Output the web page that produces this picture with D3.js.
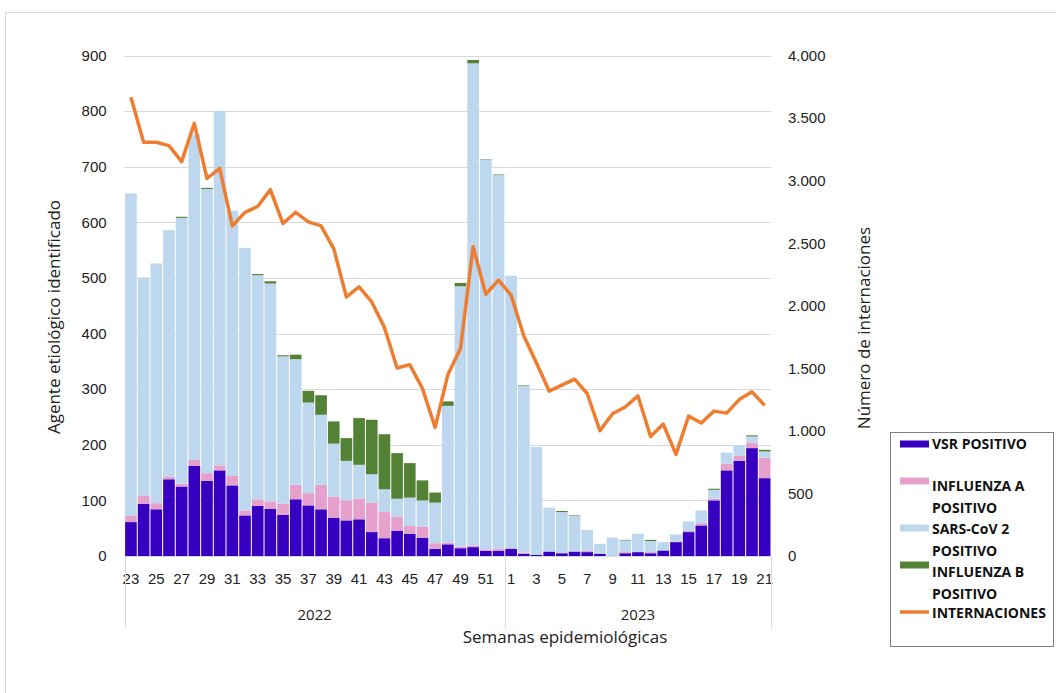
<!DOCTYPE html>
<html>
<head>
<meta charset="utf-8">
<script src="https://cdn.jsdelivr.net/npm/d3@7"></script>
<style>
  body { margin: 0; background: #fff; }
  svg { font-family: "Open Sans", "Noto Sans", sans-serif; }
</style>
</head>
<body>
<div id="chart"></div>
<script>
// semanas epidemiologicas 23/2022 .. 21/2023
const weeks = [23,24,25,26,27,28,29,30,31,32,33,34,35,36,37,38,39,40,41,42,43,44,45,46,47,48,49,50,51,52,
               1,2,3,4,5,6,7,8,9,10,11,12,13,14,15,16,17,18,19,20,21];
const years = ['2022', '2023'];
const weeksPerYear = [30, 21];

const vsr = [61,94,84,138,125,162,135,154,127,73,90,85,74,102,91,
             84,69,64,66,43,32,45,40,33,13,21,14,16,9,9,
             13,4,2,8,5,8,7,4,0,5,7,5,10,25,43,55,100,154,171,194,140];
const infA = [11,15,11,5,5,11,14,9,17,9,12,13,20,26,22,
              44,38,36,37,53,47,25,14,20,10,3,3,3,3,4,
              1,2,0,0,0,0,2,0,0,2,0,2,0,1,2,4,3,12,9,10,37];
const sars = [580,392,431,443,478,585,511,637,477,472,403,392,265,226,163,
              126,95,71,61,51,41,33,51,47,73,246,468,867,700,672,
              490,300,194,79,74,64,38,18,33,21,33,20,15,13,17,23,16,20,19,11,11];
const infB = [0,0,0,0,2,0,2,0,0,0,2,4,2,8,21,
              35,40,41,84,98,99,82,62,36,18,8,6,6,1,1,
              0,1,0,0,2,1,0,0,0,1,0,2,0,0,0,0,2,0,0,2,3];
const internaciones = [3667,3307,3307,3280,3152,3458,3017,3098,2638,2747,2793,2928,2657,2747,2671,
                       2638,2457,2070,2151,2030,1827,1502,1529,1339,1028,1448,1659,2471,2092,2205,
                       2084,1759,1542,1318,1366,1413,1299,1001,1137,1191,1280,955,1055,812,1118,1063,1158,1142,1250,1312,1204];

const leftTicks = [0,100,200,300,400,500,600,700,800,900];
const rightTicks = [0,500,1000,1500,2000,2500,3000,3500,4000];

const series = [
  { key: 'vsr', name: ['VSR POSITIVO'], color: '#3700c0', values: vsr },
  { key: 'infA', name: ['INFLUENZA A', 'POSITIVO'], color: '#e6a0cc', values: infA },
  { key: 'sars', name: ['SARS-CoV 2', 'POSITIVO'], color: '#bdd7ee', values: sars },
  { key: 'infB', name: ['INFLUENZA B', 'POSITIVO'], color: '#538135', values: infB }
];

const width = 1056, height = 693;
const x0 = 124.6, x1 = 771, yTop = 55.5, yBase = 556;

const svg = d3.select('#chart').append('svg')
  .attr('width', width)
  .attr('height', height);

// marco exterior
svg.append('rect')
  .attr('x', 5.5).attr('y', 12.5)
  .attr('width', 1060).attr('height', 700)
  .attr('fill', 'none').attr('stroke', '#d9d9d9');

const idx = weeks.map((w, i) => i);
const x = d3.scaleBand().domain(idx).range([x0, x1]).paddingInner(0.08).paddingOuter(0.04);
const y = d3.scaleLinear().domain([0, 900]).range([yBase, yTop]);
const y2 = d3.scaleLinear().domain([0, 4000]).range([yBase, yTop]);

const es = d3.formatLocale({ decimal: ',', thousands: '.', grouping: [3], currency: ['$', ''] });
const fmt = es.format(',');

// grilla
svg.append('g')
  .selectAll('line')
  .data(leftTicks.slice(1))
  .join('line')
  .attr('x1', x0).attr('x2', x1)
  .attr('y1', d => Math.round(y(d)) + 0.5).attr('y2', d => Math.round(y(d)) + 0.5)
  .attr('stroke', '#d9d9d9').attr('stroke-width', 1);

// eje izquierdo
const gl = svg.append('g')
  .attr('transform', `translate(${x0 - 18},0)`)
  .call(d3.axisLeft(y).tickValues(leftTicks).tickSize(0).tickPadding(0));
gl.select('.domain').remove();
gl.selectAll('text').attr('font-size', 15).attr('fill', '#222').style('font-family', 'inherit');

// eje derecho
const gr = svg.append('g')
  .attr('transform', `translate(${x1 + 17},0)`)
  .call(d3.axisRight(y2).tickValues(rightTicks).tickFormat(fmt).tickSize(0).tickPadding(0));
gr.select('.domain').remove();
gr.selectAll('text').attr('font-size', 15).attr('fill', '#222').style('font-family', 'inherit');

// barras apiladas
const rows = idx.map(i => ({ i, vsr: vsr[i], infA: infA[i], sars: sars[i], infB: infB[i] }));
const stack = d3.stack().keys(series.map(s => s.key))(rows);

svg.append('g')
  .selectAll('g')
  .data(stack)
  .join('g')
  .attr('fill', (d, k) => series[k].color)
  .selectAll('rect')
  .data(d => d)
  .join('rect')
  .attr('x', d => x(d.data.i))
  .attr('width', x.bandwidth())
  .attr('y', d => y(d[1]))
  .attr('height', d => y(d[0]) - y(d[1]));

// eje x
svg.append('line')
  .attr('x1', x0).attr('x2', x1)
  .attr('y1', yBase + 0.5).attr('y2', yBase + 0.5)
  .attr('stroke', '#d9d9d9');

const gx = svg.append('g')
  .attr('transform', `translate(0,${yBase})`)
  .call(d3.axisBottom(x)
    .tickValues(idx.filter(i => i % 2 === 0))
    .tickFormat(i => weeks[i])
    .tickSize(0).tickPadding(17));
gx.select('.domain').remove();
gx.selectAll('text').attr('font-size', 15).attr('fill', '#222').style('font-family', 'inherit');

// separadores de año
const split = x0 + (x1 - x0) * weeksPerYear[0] / weeks.length;
const bounds = [x0, split, x1];
svg.append('g')
  .selectAll('line')
  .data(bounds)
  .join('line')
  .attr('x1', d => Math.round(d) + 0.5).attr('x2', d => Math.round(d) + 0.5)
  .attr('y1', yBase).attr('y2', 628)
  .attr('stroke', '#d9d9d9');

svg.append('g')
  .selectAll('text')
  .data(years)
  .join('text')
  .attr('x', (d, k) => (bounds[k] + bounds[k + 1]) / 2)
  .attr('y', 620)
  .attr('text-anchor', 'middle')
  .attr('font-size', 15)
  .attr('fill', '#222')
  .text(d => d);

// linea de internaciones
const line = d3.line()
  .x((d, i) => x(i) + x.bandwidth() / 2)
  .y(d => y2(d));

svg.append('path')
  .datum(internaciones)
  .attr('d', line)
  .attr('fill', 'none')
  .attr('stroke', '#ed7d31')
  .attr('stroke-width', 3.5)
  .attr('stroke-linejoin', 'round');

// titulos de ejes
svg.append('text')
  .attr('x', 565).attr('y', 643)
  .attr('text-anchor', 'middle')
  .attr('font-size', 17)
  .attr('fill', '#222')
  .text('Semanas epidemiológicas');

svg.append('text')
  .attr('transform', 'translate(60,317) rotate(-90)')
  .attr('text-anchor', 'middle')
  .attr('font-size', 17)
  .attr('fill', '#222')
  .text('Agente etiológico identificado');

svg.append('text')
  .attr('transform', 'translate(870,328) rotate(-90)')
  .attr('text-anchor', 'middle')
  .attr('font-size', 17)
  .attr('fill', '#222')
  .text('Número de internaciones');

// leyenda
const lg = svg.append('g');
lg.append('rect')
  .attr('x', 890.5).attr('y', 432.5)
  .attr('width', 163).attr('height', 214)
  .attr('fill', '#fff').attr('stroke', '#7f7f7f');

const legendRows = [
  { s: series[0], sy: 444, ty: 444 },
  { s: series[1], sy: 481, ty: 486 },
  { s: series[2], sy: 528, ty: 529 },
  { s: series[3], sy: 565, ty: 572 }
];
legendRows.forEach(r => {
  lg.append('rect')
    .attr('x', 900).attr('y', r.sy - 3.5)
    .attr('width', 29).attr('height', 7)
    .attr('fill', r.s.color);
  r.s.name.forEach((t, k) => {
    lg.append('text')
      .attr('x', 932).attr('y', r.ty + k * 22)
      .attr('dy', '0.35em')
      .attr('font-size', 14)
      .attr('font-weight', 'bold')
      .attr('fill', '#111')
      .text(t);
  });
});
lg.append('line')
  .attr('x1', 900).attr('x2', 929)
  .attr('y1', 612).attr('y2', 612)
  .attr('stroke', '#ed7d31').attr('stroke-width', 3.5);
lg.append('text')
  .attr('x', 932).attr('y', 613)
  .attr('dy', '0.35em')
  .attr('font-size', 14)
  .attr('font-weight', 'bold')
  .attr('fill', '#111')
  .text('INTERNACIONES');
</script>
</body>
</html>
